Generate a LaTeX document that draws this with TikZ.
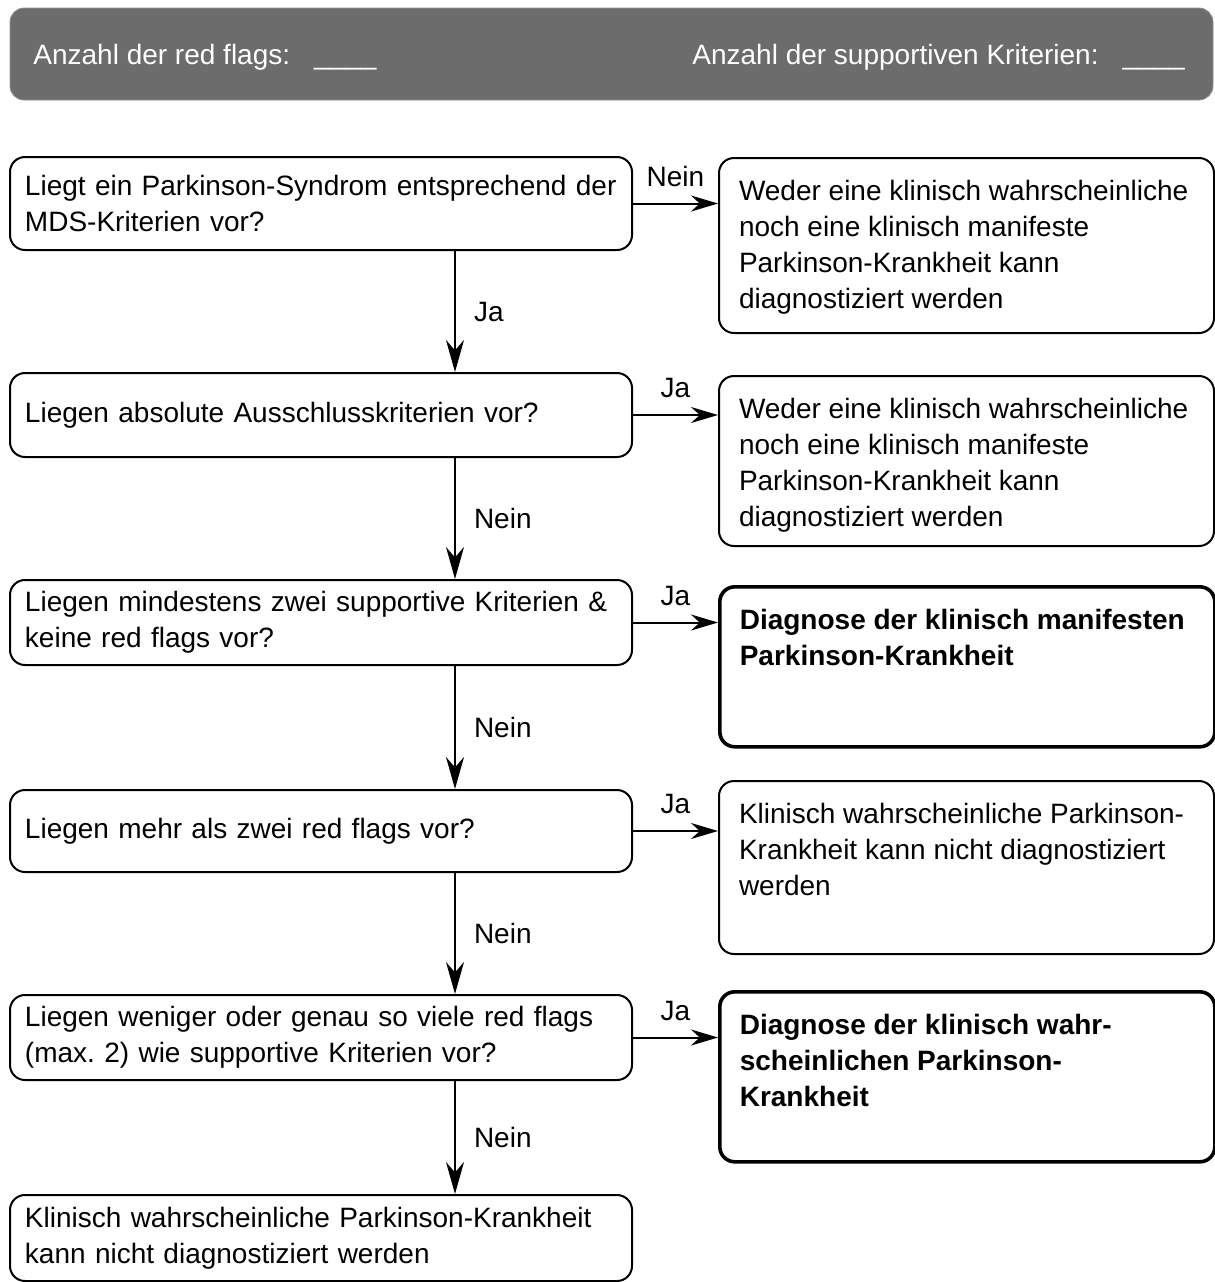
\documentclass[tikz,border=0pt]{standalone}
\usepackage{fontspec}
\setmainfont{Liberation Sans}
\usetikzlibrary{arrows.meta,positioning,calc}
\definecolor{hdrgray}{RGB}{108,108,108}
\newcommand{\toptext}[2]{\parbox[t][#1][t]{227.5pt}{\raggedright #2}}

\begin{document}
\begin{tikzpicture}[x=0.5pt,y=-0.5pt,
every node/.style={font=\fontsize{14}{18}\selectfont},
hdrbox/.style={fill=hdrgray, draw=hdrgray!75, rounded corners=7pt, inner sep=0pt},
hdrtext/.style={text=white, inner sep=0pt, anchor=base west},
qbox/.style={draw, rounded corners=7.5pt, line width=1pt, text width=296pt,
  inner xsep=7.5pt, inner ysep=0pt, align=left},
abox/.style={draw, rounded corners=7.5pt, line width=1pt, anchor=north west,
  inner xsep=10pt, inner ysep=11pt},
dbox/.style={abox, line width=1.8pt, font=\fontsize{14}{18}\selectfont\bfseries},
harrow/.style={-{Stealth[length=13.5pt,width=8pt]}, line width=1pt},
varrow/.style={-{Stealth[length=16pt,width=9pt]}, line width=1pt},
lbl/.style={inner sep=2pt}]
\useasboundingbox (0,0) rectangle (1215,1282);

% header
\node (hdr) at (611.5,54) [hdrbox, minimum width=601.5pt, minimum height=46pt] {};
\node (nflags) at (33,64) [hdrtext] {Anzahl der red flags:\hspace{12pt}\_\_\_\_};
\node (nsupp) at (692,64) [hdrtext] {Anzahl der supportiven Kriterien:\hspace{12pt}\_\_\_\_};

% questions
\node (q1) at (321,203.5) [qbox, minimum height=46.5pt] {Liegt ein Parkinson-Syndrom entsprechend der\\MDS-Kriterien vor?};
\node (q2) at (321,415) [qbox, minimum height=42pt] {Liegen absolute Ausschlusskriterien vor?};
\node (q3) at (321,622.5) [qbox, minimum height=42.5pt] {Liegen mindestens zwei supportive Kriterien \&\\keine red flags vor?};
\node (q4) at (321,831) [qbox, minimum height=41pt] {Liegen mehr als zwei red flags vor?};
\node (q5) at (321,1037.5) [qbox, minimum height=42.5pt] {Liegen weniger oder genau so viele red flags\\(max.\ 2) wie supportive Kriterien vor?};
\node (q6) at (321,1238) [qbox, minimum height=43pt] {Klinisch wahrscheinliche Parkinson-Krankheit\\kann nicht diagnostiziert werden};

% answers
\node (r1) at (718,157) [abox] {\toptext{65.5pt}{Weder eine klinisch wahrscheinliche\\noch eine klinisch manifeste\\Parkinson-Krankheit kann\\diagnostiziert werden}};
\node (r2) at (718,375) [abox] {\toptext{63pt}{Weder eine klinisch wahrscheinliche\\noch eine klinisch manifeste\\Parkinson-Krankheit kann\\diagnostiziert werden}};
\node (r3) at (718,585) [dbox] {\toptext{58pt}{Diagnose der klinisch manifesten\\Parkinson-Krankheit}};
\node (r4) at (718,780) [abox] {\toptext{64.5pt}{Klinisch wahrscheinliche Parkinson-\\Krankheit kann nicht diagnostiziert\\werden}};
\node (r5) at (718,990) [dbox] {\toptext{63pt}{Diagnose der klinisch wahr-\\scheinlichen Parkinson-\\Krankheit}};

% arrows
\coordinate (ax) at (455,0);
\draw[harrow] (q1.east) -- node[lbl, above=6pt] {Nein} (q1.east -| r1.west);
\draw[harrow] (q2.east) -- node[lbl, above=6pt] {Ja} (q2.east -| r2.west);
\draw[harrow] (q3.east) -- node[lbl, above=6pt] {Ja} (q3.east -| r3.west);
\draw[harrow] (q4.east) -- node[lbl, above=6pt] {Ja} (q4.east -| r4.west);
\draw[harrow] (q5.east) -- node[lbl, above=6pt] {Ja} (q5.east -| r5.west);

\draw[varrow] (q1.south -| ax) -- node[lbl, right=7pt] {Ja} (q2.north -| ax);
\draw[varrow] (q2.south -| ax) -- node[lbl, right=7pt] {Nein} (q3.north -| ax);
\draw[varrow] (q3.south -| ax) -- node[lbl, right=7pt] {Nein} (q4.north -| ax);
\draw[varrow] (q4.south -| ax) -- node[lbl, right=7pt] {Nein} (q5.north -| ax);
\draw[varrow] (q5.south -| ax) -- node[lbl, right=7pt] {Nein} (q6.north -| ax);
\end{tikzpicture}
\end{document}
